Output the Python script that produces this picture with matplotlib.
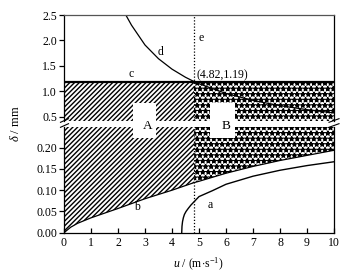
import matplotlib
matplotlib.use("Agg")
import matplotlib.pyplot as plt
from matplotlib.patches import Rectangle
from matplotlib.lines import Line2D

plt.rcParams['font.family'] = ['Liberation Serif', 'DejaVu Serif']
plt.rcParams['mathtext.fontset'] = 'custom'
plt.rcParams['mathtext.rm'] = 'Liberation Serif'
plt.rcParams['mathtext.it'] = 'Liberation Serif:italic'
plt.rcParams['hatch.linewidth'] = 1.0

# ---- data ----
u_b = [0, 0.25, 0.5, 1, 1.5, 2, 3, 4, 4.82, 5, 6, 7, 8, 9, 10]
d_b = [0, 0.013, 0.022, 0.035, 0.046, 0.057, 0.080, 0.100, 0.118, 0.121, 0.140, 0.156, 0.170, 0.182, 0.194]

u_a = [4.36, 4.37, 4.39, 4.42, 4.46, 4.52, 4.6, 4.7, 4.82, 5.0, 5.5, 6.0, 7.0, 8.0, 9.0, 10.0]
d_a = [0.0, 0.015, 0.026, 0.035, 0.043, 0.050, 0.057, 0.065, 0.073, 0.085, 0.099, 0.114, 0.133, 0.147, 0.158, 0.167]

u_d = [2.29, 2.5, 3, 3.5, 4, 4.5, 4.82, 5, 6, 7, 8, 9, 10]
d_d = [2.5, 2.3, 1.91, 1.64, 1.435, 1.275, 1.19, 1.148, 0.957, 0.82, 0.717, 0.638, 0.574]

c_level = 1.19
e_u = 4.82
u_range = [0, 10]

upper_ticks = [0.5, 1.0, 1.5, 2.0, 2.5]
lower_ticks = [0.00, 0.05, 0.10, 0.15, 0.20]
x_ticks = [0, 1, 2, 3, 4, 5, 6, 7, 8, 9, 10]

W, H = 347, 277
fig = plt.figure(figsize=(W / 100, H / 100), dpi=100)

def fx(px):
    return px / W

def fy(py):
    return 1 - py / H

left, right = 64, 334
ax_up = fig.add_axes([fx(left), fy(121), fx(right) - fx(left), fy(15) - fy(121)])
ax_lo = fig.add_axes([fx(left), fy(232.7), fx(right) - fx(left), fy(126.5) - fy(232.7)])

up_lo, up_hi = 0.415, 2.5
lo_lo, lo_hi = 0.0, 0.25

uA = [u for u in u_b if u <= e_u]
uB = [u for u in u_b if u >= e_u]
bA = [d for u, d in zip(u_b, d_b) if u <= e_u]
bB = [d for u, d in zip(u_b, d_b) if u >= e_u]

hA = '///////'
hB = '***'

ax_up.fill_between([0, e_u], up_lo - 0.1, c_level, facecolor='white', edgecolor='black',
                   hatch=hA, linewidth=0)
ax_up.fill_between([e_u, 10], up_lo - 0.1, c_level, facecolor='white', edgecolor='black',
                   hatch=hB, linewidth=0)
ax_lo.fill_between(uA, bA, lo_hi + 0.05, facecolor='white', edgecolor='black',
                   hatch=hA, linewidth=0)
ax_lo.fill_between(uB, bB, lo_hi + 0.05, facecolor='white', edgecolor='black',
                   hatch=hB, linewidth=0)

ax_up.plot(u_range, [c_level, c_level], color='black', lw=1.6)
ax_up.plot(u_d, d_d, color='black', lw=0.9)
ax_lo.plot(u_b, d_b, color='black', lw=0.9)
ax_lo.plot(u_a, d_a, color='black', lw=1.0)
for ax in (ax_up, ax_lo):
    ax.axvline(e_u, color='black', lw=0.9, ls=(0, (1, 1.5)))

ax_up.set_xlim(0, 10)
ax_lo.set_xlim(0, 10)
ax_up.set_ylim(up_lo, up_hi)
ax_lo.set_ylim(lo_lo, lo_hi)

ax_up.set_yticks(upper_ticks)
ax_up.set_yticklabels([f"{t:.1f}" for t in upper_ticks])
ax_lo.set_yticks(lower_ticks)
ax_lo.set_yticklabels([f"{t:.2f}" for t in lower_ticks])
ax_lo.set_xticks(x_ticks)
ax_lo.set_xticklabels([str(t) for t in x_ticks])
ax_up.set_xticks([])

fs = 8.5
for ax in (ax_up, ax_lo):
    ax.tick_params(axis='y', direction='out', length=3.5, width=0.9, labelsize=fs, pad=1.5)
    ax.tick_params(axis='x', direction='in', length=3.5, width=0.9, labelsize=fs, pad=3)
    for s in ax.spines.values():
        s.set_linewidth(0.9)
ax_up.spines['bottom'].set_visible(False)
ax_lo.spines['top'].set_visible(False)
ax_up.spines['top'].set_color('#555555')

ax_up.text(2.5, 1.33, 'c', fontsize=fs, ha='center', va='center')
ax_up.text(3.59, 1.77, 'd', fontsize=fs, ha='center', va='center')
ax_up.text(5.07, 2.05, 'e', fontsize=fs, ha='center', va='center')
ax_up.text(4.9, 1.32, '(4.82,1.19)', fontsize=fs, ha='left', va='center')
ax_lo.text(2.70, 0.060, 'b', fontsize=fs, ha='center', va='center')
ax_lo.text(5.41, 0.065, 'a', fontsize=fs, ha='center', va='center')

for (x0, x1, tx, lab) in [(132.7, 156, 147.7, 'A'), (210, 235, 225.7, 'B')]:
    fig.patches.append(Rectangle((fx(x0), fy(138)), fx(x1) - fx(x0), fy(103.3) - fy(138),
                                 transform=fig.transFigure, facecolor='white',
                                 edgecolor='none', zorder=5))
    fig.text(fx(tx), fy(125.7), lab, fontsize=9.5, ha='center', va='center', zorder=6)

for (xa, xb) in [(60.5, 68.5), (329, 339)]:
    for yy in (120.5, 125.5):
        fig.lines.append(Line2D([fx(xa), fx(xb)], [fy(yy + 1.8), fy(yy - 1.8)],
                                transform=fig.transFigure, color='black', lw=0.8, zorder=7))

fig.text(fx(16), fy(124), r'$\delta$ / mm', rotation=90, ha='center', va='center', fontsize=9)
fig.text(fx(198), fy(264), r'$u$ / (m$\cdot$s$^{-1}$)', ha='center', va='center', fontsize=fs)

fig.savefig('out.png', dpi=100)
